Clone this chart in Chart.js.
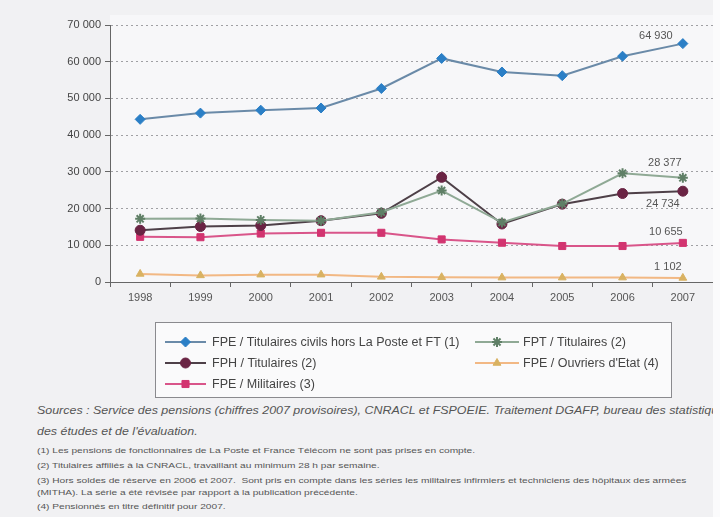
<!DOCTYPE html>
<html>
<head>
<meta charset="utf-8">
<script src="https://cdn.jsdelivr.net/npm/chart.js@4"></script>
<style>
  html, body { margin:0; padding:0; }
  body { width:720px; height:517px; background:#f1f1f3; position:relative; overflow:hidden; font-family:"Liberation Sans", Arial, sans-serif; }
  #wrap { position:absolute; left:0; top:0; width:720px; height:400px; }
  .note { position:absolute; left:37px; white-space:nowrap; color:#555; transform-origin:0 50%; }
  .src { font-style:italic; font-size:11px; transform:scaleX(1.13); }
  .fn { font-size:8px; transform:scaleX(1.27); }
  #edge { position:absolute; left:713px; top:0; width:7px; height:517px; background:#fbfbfc; }
</style>
</head>
<body>
<div id="wrap"><canvas id="c" width="720" height="400"></canvas></div>
<div class="note src" style="top:404px">Sources : Service des pensions (chiffres 2007 provisoires), CNRACL et FSPOEIE. Traitement DGAFP, bureau des statistiques,</div>
<div class="note src" style="top:425px">des études et de l'évaluation.</div>
<div class="note fn" style="top:446px">(1) Les pensions de fonctionnaires de La Poste et France Télécom ne sont pas prises en compte.</div>
<div class="note fn" style="top:461px">(2) Titulaires affiliés à la CNRACL, travaillant au minimum 28 h par semaine.</div>
<div class="note fn" style="top:476px">(3) Hors soldes de réserve en 2006 et 2007.&nbsp; Sont pris en compte dans les séries les militaires infirmiers et techniciens des hôpitaux des armées</div>
<div class="note fn" style="top:488px">(MITHA). La série a été révisée par rapport à la publication précédente.</div>
<div class="note fn" style="top:502px">(4) Pensionnés en titre définitif pour 2007.</div>
<div id="edge"></div>
<script>
// ---- DATA ----
const years = ['1998','1999','2000','2001','2002','2003','2004','2005','2006','2007'];
const fpeTitulaires = [44300, 46000, 46800, 47400, 52700, 60900, 57200, 56200, 61500, 64930];
const fptTitulaires = [17200, 17300, 16900, 16700, 19000, 24900, 16200, 21300, 29600, 28377];
const fphTitulaires = [14100, 15100, 15400, 16700, 18700, 28500, 15800, 21200, 24100, 24734];
const fpeMilitaires = [12300, 12200, 13200, 13400, 13400, 11600, 10700, 9800, 9800, 10655];
const fpeOuvriers = [2200, 1800, 2000, 2000, 1400, 1300, 1200, 1200, 1200, 1102];
const seriesNames = [
  'FPE / Titulaires civils hors La Poste et FT (1)',
  'FPT / Titulaires (2)',
  'FPH / Titulaires (2)',
  'FPE / Militaires (3)',
  "FPE / Ouvriers d'Etat (4)"
];
const yTicksMax = 70000;
const yTickStep = 10000;

function fmt(v) { return String(v).replace(/\B(?=(\d{3})+(?!\d))/g, ' '); }

const FONT = '"Liberation Sans", Arial, sans-serif';

function ds(label, data, lineColor, ptColor, style, radius, bw) {
  return {
    label, data,
    borderColor: lineColor, borderWidth: bw || 2,
    pointStyle: style, pointRadius: radius, pointHoverRadius: radius,
    pointBackgroundColor: ptColor, pointBorderColor: ptColor, pointBorderWidth: 1,
    tension: 0, fill: false
  };
}

const datasets = [
  ds(seriesNames[0], fpeTitulaires, '#6a8aa8', '#2b7fc6', 'rectRot', 5),
  ds(seriesNames[1], fptTitulaires, '#8fa995', '#5f7f66', 'star', 5),
  ds(seriesNames[2], fphTitulaires, '#4e4048', '#6a2444', 'circle', 5),
  ds(seriesNames[3], fpeMilitaires, '#d9558a', '#d23470', 'rect', 5),
  ds(seriesNames[4], fpeOuvriers, '#f2b884', '#d9b262', 'triangle', 4.5)
];
datasets[1].pointBorderWidth = 2;

// label offsets for last values (dx, dy relative to last point)
const lastLabelOffsets = [[-27, -8], [-18, -15], [-20, 13], [-17, -11], [-15, -11]];

const bgPlugin = {
  id: 'bg',
  beforeDraw(chart) {
    const { ctx, chartArea: a } = chart;
    ctx.save();
    ctx.fillStyle = '#f7f7f9';
    ctx.fillRect(a.left, a.top - 10, a.right - a.left, a.bottom - a.top + 10);
    ctx.restore();
  }
};

const lastLabelPlugin = {
  id: 'lastLabels',
  afterDatasetsDraw(chart) {
    const ctx = chart.ctx;
    ctx.save();
    ctx.font = '11px ' + FONT;
    ctx.fillStyle = '#555';
    ctx.textAlign = 'center';
    ctx.textBaseline = 'middle';
    chart.data.datasets.forEach((d, i) => {
      const meta = chart.getDatasetMeta(i);
      const n = d.data.length - 1;
      const p = meta.data[n];
      const o = lastLabelOffsets[i];
      ctx.fillText(fmt(d.data[n]), p.x + o[0], p.y + o[1]);
    });
    ctx.restore();
  }
};

// legend layout: [datasetIndex, col, row]
const legendLayout = [[0, 0, 0], [2, 0, 1], [3, 0, 2], [1, 1, 0], [4, 1, 1]];
const legendPlugin = {
  id: 'boxLegend',
  afterDraw(chart) {
    const ctx = chart.ctx;
    const box = { x: 155.5, y: 322.5, w: 516, h: 75 };
    ctx.save();
    ctx.fillStyle = '#fafafb';
    ctx.strokeStyle = '#8a8a8e';
    ctx.lineWidth = 1;
    ctx.fillRect(box.x, box.y, box.w, box.h);
    ctx.strokeRect(box.x, box.y, box.w, box.h);
    const cols = [{ x0: 165, x1: 206, tx: 212 }, { x0: 475, x1: 519, tx: 523 }];
    const rows = [342, 363, 384];
    ctx.font = '12.5px ' + FONT;
    ctx.textBaseline = 'middle';
    legendLayout.forEach(([di, c, r]) => {
      const d = chart.data.datasets[di];
      const col = cols[c], y = rows[r];
      ctx.strokeStyle = d.borderColor;
      ctx.lineWidth = 2;
      ctx.beginPath(); ctx.moveTo(col.x0, y); ctx.lineTo(col.x1, y); ctx.stroke();
      ctx.fillStyle = d.pointBackgroundColor;
      ctx.strokeStyle = d.pointBorderColor;
      ctx.lineWidth = d.pointBorderWidth;
      Chart.helpers.drawPoint(ctx, { pointStyle: d.pointStyle, radius: d.pointRadius, rotation: 0, borderWidth: d.pointBorderWidth }, (col.x0 + col.x1) / 2, y);
      ctx.fillStyle = '#444';
      ctx.fillText(d.label, col.tx, y + 0.5);
    });
    ctx.restore();
  }
};

new Chart(document.getElementById('c'), {
  type: 'line',
  data: { labels: years, datasets },
  options: {
    responsive: false,
    animation: false,
    layout: { padding: { left: 0, right: 7, top: 25, bottom: 0 } },
    plugins: { legend: { display: false }, tooltip: { enabled: false } },
    scales: {
      x: {
        offset: true,
        grid: { display: true, drawOnChartArea: false, offset: true, tickLength: 5, tickColor: '#666' },
        border: { display: true, color: '#666', width: 1 },
        ticks: { color: '#555', font: { family: FONT, size: 11 }, padding: 4, maxRotation: 0 },
        afterFit(s) { s.height = 118; }
      },
      y: {
        min: 0, max: yTicksMax,
        grid: { color: '#a0a0a4', lineWidth: 1, tickLength: 5, tickColor: '#666', tickBorderDash: [] },
        border: { display: true, color: '#666', width: 1, dash: [2, 3] },
        ticks: { stepSize: yTickStep, color: '#444', font: { family: FONT, size: 11 }, padding: 4, callback: v => fmt(v) },
        afterFit(s) { s.width = 110; }
      }
    }
  },
  plugins: [bgPlugin, lastLabelPlugin, legendPlugin]
});
</script>
</body>
</html>
